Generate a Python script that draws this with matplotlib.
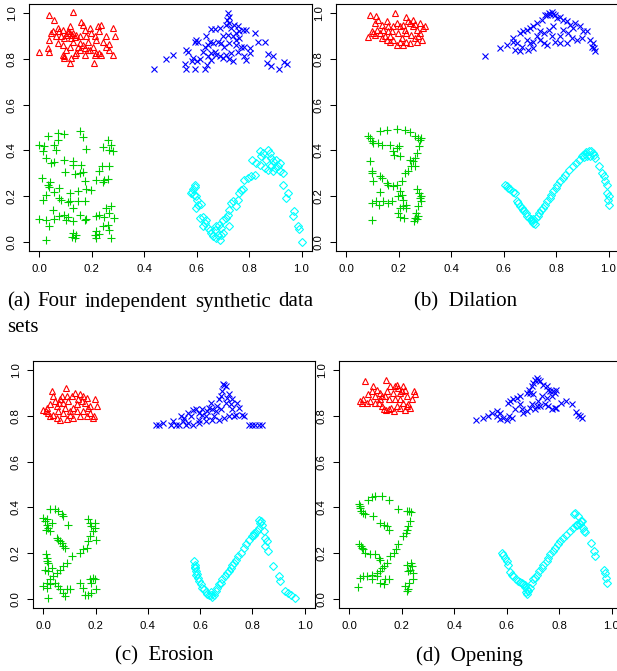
import numpy as np
import matplotlib.pyplot as plt

# ---- (a) four independent synthetic data sets ----
a_red = [(0.038, 0.993), (0.127, 1.003), (0.057, 0.971), (0.0, 0.832), (0.032, 0.847), (0.038, 0.832),
         (0.045, 0.913), (0.038, 0.883), (0.051, 0.920), (0.076, 0.920), (0.064, 0.898), (0.083, 0.898),
         (0.070, 0.869), (0.089, 0.862), (0.095, 0.891), (0.102, 0.905), (0.115, 0.942), (0.108, 0.913),
         (0.121, 0.891), (0.127, 0.913), (0.140, 0.905), (0.153, 0.898), (0.159, 0.963), (0.165, 0.949),
         (0.172, 0.927), (0.178, 0.898), (0.184, 0.876), (0.191, 0.934), (0.197, 0.913), (0.210, 0.898),
         (0.216, 0.883), (0.223, 0.942), (0.229, 0.920), (0.235, 0.949), (0.242, 0.876), (0.252, 0.898),
         (0.254, 0.854), (0.280, 0.934), (0.290, 0.898), (0.280, 0.818), (0.229, 0.825), (0.267, 0.840),
         (0.235, 0.818), (0.216, 0.825), (0.191, 0.840), (0.172, 0.847), (0.153, 0.840), (0.140, 0.825),
         (0.134, 0.818), (0.115, 0.854), (0.102, 0.840), (0.089, 0.818), (0.095, 0.803), (0.121, 0.803),
         (0.146, 0.854), (0.165, 0.862), (0.184, 0.840), (0.203, 0.854), (0.210, 0.818), (0.172, 0.818),
         (0.070, 0.934), (0.089, 0.927), (0.127, 0.876), (0.153, 0.869), (0.117, 0.780), (0.207, 0.780),
         (0.110, 0.920), (0.125, 0.905), (0.135, 0.895), (0.118, 0.912), (0.093, 0.812), (0.265, 0.865)]

a_blue = [(0.719, 1.0), (0.723, 0.985), (0.715, 0.971), (0.725, 0.956), (0.712, 0.949), (0.732, 0.934),
          (0.744, 0.949), (0.757, 0.942), (0.763, 0.920), (0.751, 0.913), (0.776, 0.927), (0.789, 0.927),
          (0.821, 0.913), (0.687, 0.934), (0.668, 0.930), (0.655, 0.930), (0.700, 0.898), (0.719, 0.905),
          (0.738, 0.898), (0.751, 0.883), (0.763, 0.891), (0.725, 0.869), (0.693, 0.869), (0.681, 0.876),
          (0.662, 0.869), (0.636, 0.898), (0.649, 0.876), (0.630, 0.854), (0.642, 0.862), (0.598, 0.883),
          (0.592, 0.872), (0.604, 0.876), (0.560, 0.840), (0.566, 0.832), (0.623, 0.832), (0.655, 0.825),
          (0.674, 0.818), (0.668, 0.832), (0.712, 0.818), (0.732, 0.825), (0.757, 0.832), (0.770, 0.854),
          (0.782, 0.854), (0.802, 0.847), (0.833, 0.872), (0.859, 0.872), (0.872, 0.822), (0.891, 0.811),
          (0.509, 0.818), (0.483, 0.799), (0.585, 0.803), (0.611, 0.799), (0.700, 0.803), (0.725, 0.799),
          (0.782, 0.811), (0.802, 0.825), (0.642, 0.811), (0.687, 0.811), (0.751, 0.862), (0.706, 0.854),
          (0.436, 0.757), (0.556, 0.777), (0.560, 0.757), (0.595, 0.757), (0.630, 0.756), (0.640, 0.775),
          (0.656, 0.796), (0.738, 0.790), (0.790, 0.797), (0.869, 0.780), (0.884, 0.770), (0.913, 0.757),
          (0.932, 0.785), (0.944, 0.777), (0.600, 0.790), (0.583, 0.790)]

a_green = [(0.032, 0.464), (0.070, 0.476), (0.095, 0.473), (0.153, 0.483), (0.165, 0.459), (0.070, 0.447),
           (0.0, 0.425), (0.019, 0.418), (0.013, 0.396), (0.057, 0.425), (0.064, 0.403), (0.025, 0.367),
           (0.045, 0.345), (0.057, 0.348), (0.095, 0.356), (0.127, 0.352), (0.159, 0.338), (0.127, 0.338),
           (0.178, 0.406), (0.242, 0.415), (0.267, 0.400), (0.261, 0.444), (0.280, 0.396), (0.274, 0.425),
           (0.099, 0.304), (0.134, 0.298), (0.153, 0.301), (0.165, 0.304), (0.239, 0.330), (0.229, 0.308),
           (0.267, 0.333), (0.248, 0.269), (0.261, 0.275), (0.216, 0.272), (0.242, 0.260), (0.172, 0.265),
           (0.197, 0.228), (0.178, 0.231), (0.146, 0.221), (0.115, 0.214), (0.074, 0.236), (0.057, 0.217),
           (0.032, 0.250), (0.038, 0.240), (0.025, 0.207), (0.013, 0.185), (0.010, 0.280), (0.041, 0.260),
           (0.076, 0.192), (0.083, 0.185), (0.115, 0.177), (0.146, 0.177), (0.172, 0.177), (0.108, 0.173),
           (0.127, 0.148), (0.051, 0.141), (0.0, 0.100), (0.025, 0.097), (0.057, 0.100), (0.038, 0.068),
           (0.076, 0.115), (0.095, 0.119), (0.108, 0.109), (0.102, 0.094), (0.127, 0.090), (0.153, 0.119),
           (0.172, 0.094), (0.178, 0.100), (0.229, 0.119), (0.216, 0.115), (0.254, 0.148), (0.274, 0.155),
           (0.267, 0.127), (0.248, 0.109), (0.242, 0.068), (0.216, 0.046), (0.210, 0.028), (0.229, 0.036),
           (0.267, 0.054), (0.261, 0.075), (0.127, 0.039), (0.140, 0.028), (0.125, 0.022), (0.134, 0.017),
           (0.025, 0.007), (0.274, 0.017), (0.286, 0.105), (0.214, 0.017)]

a_cyan = [(0.592, 0.250), (0.579, 0.214), (0.598, 0.199), (0.598, 0.148), (0.617, 0.167), (0.585, 0.230),
          (0.590, 0.205), (0.600, 0.185), (0.605, 0.160), (0.583, 0.220), (0.595, 0.240),
          (0.611, 0.105), (0.623, 0.109), (0.636, 0.097), (0.630, 0.083), (0.623, 0.068), (0.642, 0.061),
          (0.649, 0.054), (0.655, 0.039), (0.662, 0.025), (0.674, 0.017), (0.681, 0.032), (0.687, 0.010),
          (0.693, 0.028), (0.700, 0.039), (0.668, 0.054), (0.674, 0.068), (0.684, 0.075), (0.693, 0.061),
          (0.700, 0.097), (0.712, 0.105), (0.725, 0.068), (0.719, 0.119), (0.725, 0.141), (0.732, 0.170),
          (0.738, 0.177), (0.751, 0.155), (0.757, 0.185), (0.763, 0.214), (0.770, 0.228), (0.776, 0.231),
          (0.782, 0.272), (0.795, 0.279), (0.808, 0.287), (0.824, 0.294), (0.812, 0.356), (0.827, 0.345),
          (0.840, 0.396), (0.852, 0.389), (0.846, 0.374), (0.865, 0.359), (0.872, 0.403), (0.878, 0.389),
          (0.884, 0.367), (0.891, 0.352), (0.903, 0.359), (0.916, 0.345), (0.910, 0.330), (0.897, 0.323),
          (0.891, 0.308), (0.916, 0.308), (0.929, 0.301), (0.859, 0.323), (0.872, 0.316), (0.884, 0.330),
          (0.840, 0.338), (0.931, 0.250), (0.948, 0.214), (0.942, 0.192), (0.973, 0.134), (0.967, 0.112),
          (0.986, 0.068), (0.992, 0.057), (1.0, 0.0)]

# ---- (b) dilation ----
b_red = [(0.083, 0.895), (0.089, 0.993), (0.112, 0.988), (0.185, 1.0), (0.229, 0.985), (0.115, 0.927),
         (0.127, 0.913), (0.153, 0.964), (0.159, 0.942), (0.166, 0.898), (0.178, 0.884), (0.197, 0.913),
         (0.204, 0.942), (0.217, 0.949), (0.242, 0.956), (0.255, 0.942), (0.268, 0.927), (0.280, 0.913),
         (0.293, 0.934), (0.299, 0.942), (0.287, 0.884), (0.268, 0.876), (0.242, 0.869), (0.217, 0.862),
         (0.191, 0.862), (0.166, 0.876), (0.146, 0.898), (0.134, 0.949), (0.108, 0.956), (0.096, 0.920),
         (0.102, 0.913), (0.121, 0.971), (0.140, 0.927), (0.172, 0.920), (0.191, 0.956), (0.210, 0.891),
         (0.229, 0.913), (0.248, 0.905), (0.261, 0.891), (0.229, 0.876), (0.178, 0.942), (0.255, 0.971),
         (0.280, 0.956), (0.108, 0.905), (0.134, 0.891), (0.159, 0.920), (0.274, 0.898), (0.223, 0.927),
         (0.204, 0.876), (0.153, 0.884), (0.236, 0.965), (0.262, 0.952)]

b_blue = [(0.529, 0.811), (0.586, 0.847), (0.611, 0.862), (0.637, 0.891), (0.637, 0.876), (0.643, 0.840),
          (0.662, 0.833), (0.669, 0.854), (0.694, 0.840), (0.701, 0.869), (0.713, 0.876), (0.739, 0.884),
          (0.752, 0.869), (0.764, 0.862), (0.662, 0.913), (0.675, 0.920), (0.688, 0.927), (0.701, 0.934),
          (0.713, 0.942), (0.726, 0.956), (0.745, 0.971), (0.758, 0.993), (0.771, 1.0), (0.783, 1.003),
          (0.796, 0.993), (0.803, 0.978), (0.815, 0.985), (0.828, 0.971), (0.841, 0.964), (0.854, 0.949),
          (0.866, 0.934), (0.873, 0.956), (0.847, 0.913), (0.860, 0.891), (0.879, 0.884), (0.898, 0.891),
          (0.904, 0.920), (0.892, 0.942), (0.828, 0.927), (0.790, 0.942), (0.771, 0.927), (0.815, 0.898),
          (0.796, 0.876), (0.841, 0.869), (0.815, 0.869), (0.783, 0.898), (0.752, 0.913), (0.739, 0.920),
          (0.917, 0.920), (0.930, 0.884), (0.940, 0.869), (0.945, 0.847), (0.949, 0.833), (0.936, 0.854),
          (0.713, 0.847), (0.726, 0.898), (0.688, 0.884), (0.650, 0.869), (0.776, 0.997), (0.765, 0.990),
          (0.790, 0.995)]

b_green = [(0.083, 0.461), (0.089, 0.454), (0.096, 0.440), (0.102, 0.432), (0.121, 0.432), (0.127, 0.483),
           (0.153, 0.491), (0.191, 0.493), (0.223, 0.488), (0.242, 0.479), (0.261, 0.461), (0.274, 0.454),
           (0.280, 0.447), (0.278, 0.418), (0.268, 0.389), (0.261, 0.367), (0.255, 0.352), (0.248, 0.330),
           (0.236, 0.309), (0.223, 0.301), (0.210, 0.265), (0.181, 0.381), (0.191, 0.410), (0.201, 0.418),
           (0.166, 0.425), (0.134, 0.425), (0.204, 0.374), (0.089, 0.352), (0.096, 0.309), (0.099, 0.301),
           (0.102, 0.265), (0.127, 0.287), (0.134, 0.279), (0.153, 0.258), (0.159, 0.250), (0.178, 0.243),
           (0.191, 0.250), (0.204, 0.221), (0.197, 0.199), (0.210, 0.207), (0.217, 0.185), (0.227, 0.163),
           (0.217, 0.156), (0.204, 0.148), (0.197, 0.127), (0.206, 0.109), (0.219, 0.105), (0.229, 0.148),
           (0.172, 0.178), (0.159, 0.170), (0.140, 0.178), (0.125, 0.163), (0.112, 0.178), (0.099, 0.170),
           (0.127, 0.217), (0.268, 0.231), (0.278, 0.214), (0.280, 0.192), (0.283, 0.178), (0.274, 0.156),
           (0.265, 0.127), (0.261, 0.105), (0.257, 0.090), (0.268, 0.098), (0.274, 0.112), (0.096, 0.095),
           (0.178, 0.396), (0.242, 0.360), (0.261, 0.330), (0.285, 0.455), (0.283, 0.200)]

b_cyan = [(0.605, 0.250), (0.611, 0.243), (0.618, 0.236), (0.624, 0.229), (0.637, 0.217), (0.643, 0.214),
          (0.650, 0.177), (0.656, 0.170), (0.662, 0.156), (0.669, 0.148), (0.673, 0.141), (0.678, 0.134),
          (0.685, 0.127), (0.690, 0.115), (0.698, 0.105), (0.703, 0.098), (0.708, 0.090), (0.713, 0.083),
          (0.713, 0.098), (0.720, 0.076), (0.724, 0.105), (0.729, 0.112), (0.736, 0.127), (0.741, 0.138),
          (0.749, 0.148), (0.758, 0.163), (0.764, 0.178), (0.775, 0.192), (0.780, 0.207), (0.790, 0.221),
          (0.800, 0.236), (0.805, 0.250), (0.815, 0.265), (0.825, 0.279), (0.834, 0.294), (0.851, 0.316),
          (0.864, 0.330), (0.876, 0.345), (0.889, 0.360), (0.898, 0.374), (0.904, 0.381), (0.915, 0.392),
          (0.924, 0.396), (0.932, 0.396), (0.940, 0.389), (0.945, 0.381), (0.930, 0.374), (0.917, 0.377),
          (0.949, 0.367), (0.962, 0.330), (0.975, 0.301), (0.981, 0.290), (0.987, 0.265), (0.994, 0.250),
          (0.996, 0.214), (1.0, 0.199), (0.997, 0.185), (1.0, 0.163), (0.910, 0.385), (0.905, 0.370)]

# ---- (c) erosion ----
c_red = [(0.0, 0.825), (0.013, 0.835), (0.025, 0.850), (0.032, 0.908), (0.038, 0.886), (0.044, 0.864),
         (0.051, 0.843), (0.057, 0.821), (0.063, 0.872), (0.070, 0.886), (0.076, 0.857), (0.082, 0.835),
         (0.086, 0.923), (0.095, 0.864), (0.102, 0.806), (0.108, 0.886), (0.114, 0.835), (0.121, 0.901),
         (0.127, 0.850), (0.140, 0.894), (0.146, 0.864), (0.152, 0.886), (0.159, 0.857), (0.165, 0.879),
         (0.171, 0.835), (0.178, 0.813), (0.188, 0.792), (0.193, 0.799), (0.197, 0.872), (0.206, 0.843),
         (0.165, 0.799), (0.140, 0.799), (0.114, 0.792), (0.089, 0.787), (0.063, 0.784), (0.051, 0.792),
         (0.038, 0.806), (0.019, 0.813), (0.076, 0.813), (0.102, 0.821), (0.127, 0.821), (0.152, 0.821),
         (0.178, 0.843), (0.133, 0.872), (0.025, 0.799), (0.089, 0.886), (0.008, 0.820), (0.060, 0.855)]

c_blue = [(0.431, 0.758), (0.444, 0.762), (0.457, 0.767), (0.489, 0.762), (0.495, 0.777), (0.508, 0.758),
          (0.520, 0.762), (0.533, 0.777), (0.539, 0.792), (0.546, 0.758), (0.552, 0.767), (0.565, 0.799),
          (0.571, 0.825), (0.584, 0.831), (0.596, 0.784), (0.609, 0.806), (0.622, 0.799), (0.628, 0.821),
          (0.635, 0.835), (0.647, 0.828), (0.654, 0.799), (0.666, 0.843), (0.673, 0.872), (0.679, 0.886),
          (0.685, 0.908), (0.692, 0.937), (0.698, 0.930), (0.688, 0.940), (0.679, 0.828), (0.698, 0.857),
          (0.704, 0.879), (0.711, 0.894), (0.717, 0.850), (0.723, 0.828), (0.730, 0.799), (0.736, 0.806),
          (0.723, 0.872), (0.742, 0.857), (0.749, 0.835), (0.759, 0.806), (0.768, 0.799), (0.711, 0.799),
          (0.692, 0.792), (0.673, 0.784), (0.647, 0.784), (0.622, 0.777), (0.596, 0.770), (0.571, 0.762),
          (0.787, 0.762), (0.799, 0.758), (0.812, 0.758), (0.825, 0.758), (0.838, 0.758), (0.609, 0.828),
          (0.596, 0.813), (0.641, 0.857), (0.660, 0.821), (0.527, 0.799), (0.552, 0.813)]

c_green = [(0.025, 0.394), (0.044, 0.391), (0.057, 0.383), (0.070, 0.369), (0.076, 0.362), (0.095, 0.321),
           (0.0, 0.354), (0.006, 0.340), (0.013, 0.325), (0.019, 0.310), (0.025, 0.296), (0.032, 0.332),
           (0.013, 0.347), (0.051, 0.267), (0.057, 0.259), (0.063, 0.252), (0.076, 0.230), (0.082, 0.223),
           (0.070, 0.245), (0.171, 0.347), (0.178, 0.332), (0.184, 0.318), (0.197, 0.332), (0.197, 0.310),
           (0.190, 0.296), (0.178, 0.274), (0.171, 0.252), (0.165, 0.223), (0.152, 0.216), (0.140, 0.201),
           (0.203, 0.259), (0.108, 0.187), (0.089, 0.157), (0.076, 0.143), (0.063, 0.128), (0.051, 0.114),
           (0.038, 0.099), (0.025, 0.085), (0.013, 0.070), (0.010, 0.194), (0.013, 0.179), (0.019, 0.157),
           (0.006, 0.128), (0.019, 0.121), (0.032, 0.136), (0.0, 0.055), (0.013, 0.048), (0.025, 0.063),
           (0.044, 0.070), (0.057, 0.055), (0.063, 0.041), (0.076, 0.026), (0.089, 0.041), (0.082, 0.012),
           (0.102, 0.044), (0.019, 0.004), (0.140, 0.070), (0.152, 0.048), (0.159, 0.019), (0.171, 0.019),
           (0.184, 0.026), (0.178, 0.085), (0.190, 0.092), (0.197, 0.085), (0.203, 0.041), (0.184, 0.070),
           (0.012, 0.165), (0.010, 0.300)]

c_cyan = [(0.577, 0.165), (0.579, 0.150), (0.581, 0.136), (0.584, 0.121), (0.586, 0.106), (0.590, 0.092),
          (0.596, 0.077), (0.603, 0.063), (0.609, 0.048), (0.615, 0.041), (0.622, 0.029), (0.628, 0.023),
          (0.635, 0.019), (0.641, 0.015), (0.647, 0.009), (0.654, 0.019), (0.660, 0.034), (0.666, 0.048),
          (0.673, 0.063), (0.679, 0.070), (0.685, 0.085), (0.695, 0.099), (0.704, 0.111), (0.711, 0.121),
          (0.717, 0.136), (0.723, 0.150), (0.730, 0.157), (0.739, 0.172), (0.746, 0.187), (0.755, 0.201),
          (0.768, 0.223), (0.777, 0.238), (0.787, 0.259), (0.799, 0.274), (0.806, 0.289), (0.819, 0.296),
          (0.825, 0.310), (0.831, 0.332), (0.827, 0.344), (0.838, 0.325), (0.844, 0.296), (0.850, 0.267),
          (0.857, 0.252), (0.848, 0.230), (0.860, 0.208), (0.878, 0.143), (0.901, 0.099), (0.907, 0.077),
          (0.926, 0.034), (0.937, 0.026), (0.949, 0.015), (0.962, 0.004), (0.580, 0.140), (0.588, 0.110),
          (0.640, 0.030), (0.805, 0.280), (0.835, 0.340)]

# ---- (d) opening ----
d_red = [(0.041, 0.864), (0.053, 0.872), (0.060, 0.952), (0.072, 0.894), (0.085, 0.908), (0.091, 0.930),
         (0.098, 0.886), (0.104, 0.915), (0.111, 0.857), (0.117, 0.872), (0.123, 0.843), (0.130, 0.828),
         (0.136, 0.886), (0.140, 0.959), (0.145, 0.908), (0.152, 0.872), (0.158, 0.835), (0.165, 0.901),
         (0.174, 0.930), (0.180, 0.937), (0.187, 0.923), (0.193, 0.901), (0.199, 0.908), (0.206, 0.930),
         (0.212, 0.915), (0.219, 0.886), (0.225, 0.850), (0.231, 0.835), (0.238, 0.872), (0.247, 0.908),
         (0.250, 0.894), (0.206, 0.857), (0.180, 0.843), (0.149, 0.828), (0.168, 0.821), (0.193, 0.835),
         (0.219, 0.843), (0.123, 0.886), (0.098, 0.857), (0.066, 0.857), (0.047, 0.857), (0.079, 0.864),
         (0.174, 0.872), (0.193, 0.872), (0.155, 0.930), (0.117, 0.901), (0.140, 0.825), (0.210, 0.825)]

d_blue = [(0.483, 0.780), (0.508, 0.789), (0.530, 0.799), (0.562, 0.821), (0.564, 0.799), (0.574, 0.787),
          (0.587, 0.792), (0.600, 0.784), (0.610, 0.799), (0.619, 0.792), (0.606, 0.857), (0.612, 0.864),
          (0.625, 0.872), (0.638, 0.879), (0.651, 0.886), (0.657, 0.828), (0.663, 0.813), (0.676, 0.821),
          (0.689, 0.835), (0.695, 0.850), (0.676, 0.901), (0.686, 0.915), (0.695, 0.930), (0.701, 0.945),
          (0.708, 0.959), (0.717, 0.966), (0.720, 0.956), (0.727, 0.952), (0.740, 0.937), (0.752, 0.930),
          (0.759, 0.915), (0.765, 0.908), (0.778, 0.908), (0.784, 0.901), (0.790, 0.915), (0.771, 0.886),
          (0.752, 0.879), (0.733, 0.886), (0.720, 0.864), (0.714, 0.843), (0.708, 0.828), (0.727, 0.843),
          (0.746, 0.850), (0.759, 0.843), (0.771, 0.828), (0.784, 0.835), (0.790, 0.835), (0.809, 0.857),
          (0.828, 0.864), (0.848, 0.850), (0.864, 0.816), (0.873, 0.806), (0.879, 0.799), (0.886, 0.792),
          (0.574, 0.813), (0.543, 0.813), (0.689, 0.901), (0.701, 0.894), (0.651, 0.850), (0.632, 0.828)]

d_green = [(0.038, 0.413), (0.041, 0.398), (0.044, 0.383), (0.051, 0.376), (0.060, 0.369), (0.072, 0.434),
           (0.085, 0.446), (0.098, 0.449), (0.123, 0.449), (0.149, 0.431), (0.091, 0.362), (0.117, 0.332),
           (0.130, 0.325), (0.142, 0.318), (0.149, 0.303), (0.187, 0.394), (0.219, 0.383), (0.229, 0.386),
           (0.231, 0.340), (0.225, 0.318), (0.219, 0.303), (0.216, 0.286), (0.206, 0.274), (0.187, 0.238),
           (0.178, 0.219), (0.168, 0.201), (0.155, 0.187), (0.142, 0.157), (0.130, 0.143), (0.117, 0.121),
           (0.038, 0.238), (0.047, 0.223), (0.053, 0.216), (0.060, 0.201), (0.079, 0.194), (0.098, 0.194),
           (0.111, 0.179), (0.117, 0.172), (0.123, 0.136), (0.104, 0.114), (0.085, 0.106), (0.066, 0.102),
           (0.053, 0.099), (0.041, 0.092), (0.034, 0.052), (0.085, 0.085), (0.104, 0.099), (0.117, 0.070),
           (0.130, 0.063), (0.136, 0.085), (0.149, 0.087), (0.212, 0.055), (0.219, 0.034), (0.225, 0.041),
           (0.229, 0.070), (0.231, 0.128), (0.234, 0.157), (0.238, 0.143), (0.241, 0.114), (0.244, 0.085),
           (0.225, 0.121), (0.219, 0.150), (0.040, 0.405), (0.045, 0.230), (0.235, 0.380)]

d_cyan = [(0.581, 0.201), (0.587, 0.190), (0.593, 0.179), (0.600, 0.165), (0.606, 0.150), (0.612, 0.117),
          (0.619, 0.106), (0.625, 0.099), (0.635, 0.085), (0.644, 0.077), (0.651, 0.073), (0.657, 0.070),
          (0.663, 0.063), (0.670, 0.052), (0.676, 0.041), (0.673, 0.029), (0.679, 0.023), (0.689, 0.048),
          (0.695, 0.070), (0.701, 0.085), (0.708, 0.092), (0.717, 0.106), (0.724, 0.121), (0.733, 0.136),
          (0.740, 0.150), (0.752, 0.165), (0.759, 0.179), (0.767, 0.194), (0.778, 0.208), (0.784, 0.223),
          (0.797, 0.238), (0.803, 0.252), (0.816, 0.267), (0.828, 0.281), (0.841, 0.296), (0.854, 0.310),
          (0.867, 0.321), (0.879, 0.329), (0.889, 0.340), (0.855, 0.369), (0.862, 0.376), (0.871, 0.362),
          (0.866, 0.325), (0.877, 0.332), (0.885, 0.340), (0.890, 0.310), (0.895, 0.296), (0.900, 0.292),
          (0.922, 0.245), (0.935, 0.208), (0.938, 0.187), (0.972, 0.128), (0.975, 0.114), (0.978, 0.092),
          (0.982, 0.070), (0.680, 0.035), (0.668, 0.060)]

panels = [(a_red, a_blue, a_green, a_cyan),
          (b_red, b_blue, b_green, b_cyan),
          (c_red, c_blue, c_green, c_cyan),
          (d_red, d_blue, d_green, d_cyan)]

caption_a_words = ['(a)', 'Four', 'independent', 'synthetic', 'data']
captions = ['(b)  Dilation', '(c)  Erosion', '(d)  Opening']
tick_vals = [0.0, 0.2, 0.4, 0.6, 0.8, 1.0]
tick_labels = ['0.0', '0.2', '0.4', '0.6', '0.8', '1.0']

W, H = 617, 671


def px_box(left, top, right, bottom):
    return [left / W, 1 - bottom / H, (right - left) / W, (bottom - top) / H]


boxes = [px_box(29, 4, 312, 251), px_box(336, 4, 619, 251),
         px_box(33, 361, 315, 608), px_box(339, 361, 622, 608)]

# R default colours / pch 2, 4, 3, 5
styles = [('^', '#FF0000', 4.8), ('x', '#0000FF', 4.4), ('+', '#00CD00', 5.4), ('D', '#00FFFF', 3.6)]

fig = plt.figure(figsize=(W / 100, H / 100), dpi=100)

for box, clusters in zip(boxes, panels):
    ax = fig.add_axes(box)
    for pts, (marker, color, size) in zip(clusters, styles):
        pts = np.array(pts)
        ax.plot(pts[:, 0], pts[:, 1], linestyle='none', marker=marker, ms=size,
                mfc='none', mec=color, mew=0.8)
    ax.set_xlim(-0.04, 1.04)
    ax.set_ylim(-0.04, 1.04)
    ax.set_xticks(tick_vals)
    ax.set_xticklabels(tick_labels, fontsize=8.2, family='Liberation Sans')
    ax.set_yticks(tick_vals)
    ax.set_yticklabels(tick_labels, fontsize=8.2, family='Liberation Sans',
                       rotation=90, va='center')
    ax.tick_params(direction='out', length=4.2, width=0.75)
    ax.tick_params(axis='x', pad=5.5)
    ax.tick_params(axis='y', pad=4.5)
    for sp in ax.spines.values():
        sp.set_linewidth(0.8)

cap_font = dict(fontsize=15, family='Liberation Serif', va='center')

# first line of caption (a) is justified between x=7 and x=313 px
renderer = fig.canvas.get_renderer()
words = [fig.text(0, 1 - 302 / H, w, ha='left', **cap_font) for w in caption_a_words]
widths = [t.get_window_extent(renderer).width for t in words]
gap = (313 - 7 - sum(widths)) / (len(words) - 1)
x = 7
for t, wd in zip(words, widths):
    t.set_x(x / W)
    x += wd + gap

fig.text(7 / W, 1 - 327 / H, 'sets', ha='left', **cap_font)
fig.text(466 / W, 1 - 302 / H, captions[0], ha='center', **cap_font)
fig.text(164 / W, 1 - 656 / H, captions[1], ha='center', **cap_font)
fig.text(469 / W, 1 - 656 / H, captions[2], ha='center', **cap_font)

fig.savefig('out.png', dpi=100)
